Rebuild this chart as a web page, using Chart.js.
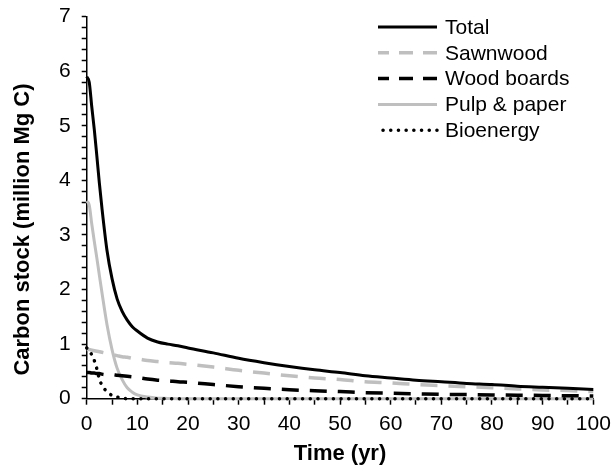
<!DOCTYPE html>
<html>
<head>
<meta charset="utf-8">
<script src="https://cdn.jsdelivr.net/npm/chart.js@4.4.1/dist/chart.umd.min.js"></script>
<style>
html,body{margin:0;padding:0;background:#fff;}
#wrap{width:614px;height:472px;position:relative;}
</style>
</head>
<body>
<div id="wrap"><canvas id="c" width="614" height="472"></canvas></div>
<script>
// ---- data ----
const seriesNames = ['Total', 'Sawnwood', 'Wood boards', 'Pulp & paper', 'Bioenergy'];
const years = [0,0.5,1,1.5,2,2.5,3,4,5,6,7,8,9,10,12,14,16,18,20,25,30,35,40,45,50,55,60,65,70,75,80,85,90,95,100];
const total = [5.90,5.80,5.35,4.93,4.45,3.95,3.50,2.72,2.20,1.83,1.60,1.44,1.32,1.24,1.11,1.04,1.00,0.97,0.93,0.84,0.74,0.66,0.59,0.53,0.48,0.42,0.38,0.34,0.31,0.28,0.26,0.23,0.21,0.19,0.17];
const sawnwood = [0.90,0.90,0.89,0.88,0.87,0.86,0.85,0.83,0.81,0.79,0.77,0.76,0.74,0.73,0.70,0.68,0.66,0.65,0.63,0.58,0.52,0.47,0.42,0.38,0.35,0.31,0.29,0.26,0.24,0.22,0.20,0.18,0.16,0.15,0.13];
const woodBoards = [0.48,0.48,0.47,0.47,0.46,0.46,0.45,0.44,0.44,0.43,0.42,0.41,0.40,0.39,0.36,0.34,0.33,0.31,0.30,0.26,0.22,0.19,0.165,0.145,0.13,0.11,0.10,0.09,0.08,0.075,0.07,0.065,0.06,0.055,0.05];
const pulpPaper = [3.62,3.55,3.20,2.88,2.58,2.26,1.95,1.36,0.90,0.56,0.35,0.20,0.12,0.07,0.03,0.01,0.005,0,0,0,0,0,0,0,0,0,0,0,0,0,0,0,0,0,0];
const bioenergy = [0.93,0.90,0.80,0.70,0.55,0.36,0.25,0.13,0.06,0.03,0.01,0,0,0,0,0,0,0,0,0,0,0,0,0,0,0,0,0,0,0,0,0,0,0,0];
const xTickStep = 5, xLabelStep = 10;
const yTickStep = 0.2;
const xTitle = 'Time (yr)';
const yTitle = 'Carbon stock (million Mg C)';

const FONT = '"Liberation Sans", Arial, sans-serif';
const pts = arr => arr.map((v, i) => ({x: years[i], y: v}));

const styles = [
  {borderColor:'#000000', borderWidth:3, borderDash:[]},
  {borderColor:'#BFBFBF', borderWidth:3.5, borderDash:[17,11]},
  {borderColor:'#000000', borderWidth:3.5, borderDash:[17,11]},
  {borderColor:'#BFBFBF', borderWidth:3, borderDash:[]},
  {borderColor:'#000000', borderWidth:3.5, borderDash:[0.1,7.6], borderCapStyle:'round'}
];
const legendDash = [[], [14,10], [14,10], [], [0.1,7.6]];
const seriesData = [total, sawnwood, woodBoards, pulpPaper, bioenergy];
const orders = [0, 2, 3, 4, 1];

const datasets = seriesData.map((arr, i) => Object.assign({
  label: seriesNames[i],
  data: pts(arr),
  pointRadius: 0,
  fill: false,
  cubicInterpolationMode: 'monotone',
  clip: false,
  order: orders[i]
}, styles[i]));

const insideLegend = {
  id: 'insideLegend',
  afterDraw(chart) {
    const ctx = chart.ctx;
    const top = chart.chartArea.top;
    const x0 = 378, x1 = 437, tx = 445, rowH = 25.8, firstY = top + 10.3;
    chart.data.datasets.forEach((ds, i) => {
      const y = firstY + i * rowH;
      ctx.save();
      ctx.strokeStyle = ds.borderColor;
      ctx.lineWidth = ds.borderWidth;
      ctx.setLineDash(legendDash[i]);
      ctx.lineCap = ds.borderCapStyle || 'butt';
      ctx.beginPath();
      ctx.moveTo(x1, y);
      ctx.lineTo(x0, y);
      ctx.stroke();
      ctx.setLineDash([]);
      ctx.fillStyle = '#000';
      ctx.font = '21px ' + FONT;
      ctx.textBaseline = 'middle';
      ctx.textAlign = 'left';
      ctx.fillText(ds.label, tx, y + 1);
      ctx.restore();
    });
    // y-axis title (placed as in the reference, slightly below the axis centre)
    const ya = chart.scales.y;
    ctx.save();
    ctx.translate(23, ya.getPixelForValue(3.1));
    ctx.rotate(-Math.PI / 2);
    ctx.fillStyle = '#000';
    ctx.font = 'bold 22px ' + FONT;
    ctx.textAlign = 'center';
    ctx.textBaseline = 'middle';
    ctx.fillText(yTitle, 0, 0);
    ctx.restore();
  }
};

new Chart(document.getElementById('c'), {
  type: 'line',
  data: { datasets },
  options: {
    responsive: false,
    animation: false,
    devicePixelRatio: 1,
    layout: { padding: { left: 0, right: 20.7, top: 16.7, bottom: 0 } },
    plugins: { legend: { display: false }, tooltip: { enabled: false } },
    scales: {
      x: {
        type: 'linear', min: 0, max: 100,
        afterFit: s => { s.height = 73.3; s.paddingLeft = 0; s.paddingRight = 0; },
        border: { color: '#000', width: 1.5 },
        grid: { drawOnChartArea: false, drawTicks: true, tickLength: 6, tickColor: '#000', tickWidth: 1.5 },
        ticks: {
          stepSize: xTickStep, autoSkip: false, maxRotation: 0, color: '#000', padding: 7,
          font: { family: FONT, size: 21 },
          callback: v => (Math.abs(v / xLabelStep - Math.round(v / xLabelStep)) < 1e-6 ? String(Math.round(v)) : '')
        },
        title: { display: true, text: xTitle, color: '#000', font: { family: FONT, size: 22, weight: 'bold' }, padding: { top: 0, bottom: 5 } }
      },
      y: {
        type: 'linear', min: 0, max: 7,
        afterFit: s => { s.width = 86.7; s.paddingTop = 0; s.paddingBottom = 0; },
        border: { color: '#000', width: 1.5 },
        grid: { drawOnChartArea: false, drawTicks: true, tickLength: 5, tickColor: '#000', tickWidth: 1.5 },
        ticks: {
          stepSize: yTickStep, autoSkip: false, color: '#000', padding: 11,
          font: { family: FONT, size: 21 },
          callback: v => (Math.abs(v - Math.round(v)) < 1e-6 ? String(Math.round(v)) : '')
        },
        title: { display: false }
      }
    }
  },
  plugins: [insideLegend]
});
</script>
</body>
</html>
